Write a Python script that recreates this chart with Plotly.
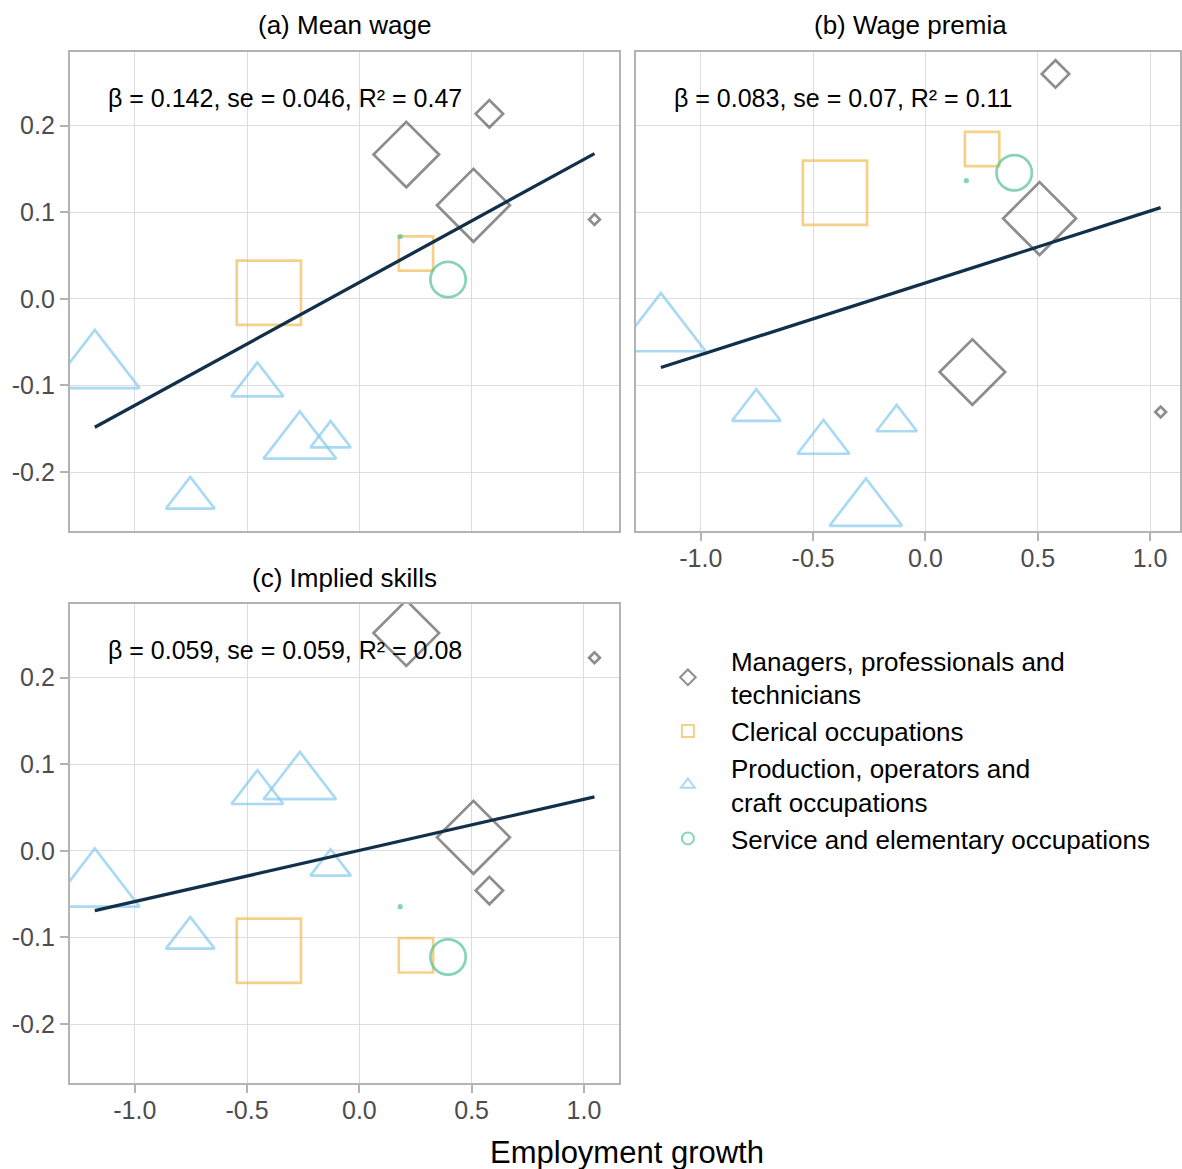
import numpy as np
import plotly.graph_objects as go

# occupation groups (legend order)
groups = [
    "Managers, professionals and<br>technicians",
    "Clerical occupations",
    "Production, operators and<br>craft occupations",
    "Service and elementary occupations",
]

# one entry per occupation
occ_group = [2, 2, 1, 2, 2, 2, 3, 0, 1, 3, 0, 0, 0]
emp_growth = [-1.178, -0.753, -0.403, -0.454, -0.265, -0.128, 0.182, 0.209, 0.252, 0.395, 0.508, 0.579, 1.047]
emp_share = [12.9, 3.8, 24.4, 4.35, 8.5, 2.65, 0.03, 12.6, 6.97, 5.86, 15.6, 2.2, 0.34]

mean_wage = [-0.0807, -0.2299, 0.0070, -0.0995, -0.1663, -0.1614, 0.0719, 0.1666, 0.0523, 0.0223, 0.1080, 0.2136, 0.0916]
wage_premia = [-0.0381, -0.1286, 0.1225, -0.1658, -0.2438, -0.1427, 0.1365, -0.0845, 0.1730, 0.1456, 0.0927, 0.2597, -0.1306]
implied_skills = [-0.0421, -0.1007, -0.1153, 0.0671, 0.0778, -0.0184, -0.0645, 0.2514, -0.1206, -0.1225, 0.0156, -0.0458, 0.2229]

# regression results per panel
panel_titles = ["(a) Mean wage", "(b) Wage premia", "(c) Implied skills"]
slopes = [0.142, 0.083, 0.059]
intercepts = [0.019, 0.0185, 0.0005]
fit_labels = [
    "β = 0.142, se = 0.046, R² = 0.47",
    "β = 0.083, se = 0.07, R² = 0.11",
    "β = 0.059, se = 0.059, R² = 0.08",
]

xtick_vals = [-1.0, -0.5, 0.0, 0.5, 1.0]
xtick_text = ["-1.0", "-0.5", "0.0", "0.5", "1.0"]
ytick_vals = [-0.2, -0.1, 0.0, 0.1, 0.2]
ytick_text = ["-0.2", "-0.1", "0.0", "0.1", "0.2"]

# styling
W, H = 1182, 1169
FONT = "Liberation Sans, Arial, Helvetica, sans-serif"
symbols = ["diamond-open", "square-open", "triangle-up-open", "circle-open"]
colors = ["#5C5C5C", "#F0BE55", "#84C9EE", "#55BF98"]
# marker size per unit of symbol "font size" so shapes resemble ggplot's pch 5/0/2/1
size_factor = [0.71, 0.65, 1.08, 0.73]
line_color = "#13304A"

x = np.array(emp_growth)
share = np.array(emp_share)
grp = np.array(occ_group)
base_size = 20 * np.sqrt(share)

panels = [mean_wage, wage_premia, implied_skills]
axis_ids = ["", "2", "3"]

fig = go.Figure()

for p, yvals in enumerate(panels):
    y = np.array(yvals)
    ax = axis_ids[p]
    for g in range(len(groups)):
        m = grp == g
        fig.add_trace(go.Scatter(
            x=x[m], y=y[m], mode="markers",
            name=groups[g], legendgroup=groups[g], showlegend=(p == 0),
            marker=dict(symbol=symbols[g], color=colors[g],
                        size=base_size[m] * size_factor[g],
                        line=dict(width=2.7, color=colors[g])),
            xaxis="x" + ax, yaxis="y" + ax, hoverinfo="x+y",
        ))
    xl = np.array([x.min(), x.max()])
    fig.add_trace(go.Scatter(
        x=xl, y=intercepts[p] + slopes[p] * xl, mode="lines",
        line=dict(color=line_color, width=3.3), showlegend=False,
        xaxis="x" + ax, yaxis="y" + ax, hoverinfo="skip",
    ))
    fig.add_annotation(x=-1.13, y=0.232, xref="x" + ax, yref="y" + ax,
                       text=fit_labels[p], showarrow=False, xanchor="left",
                       yanchor="middle", font=dict(size=25, color="black"))

frame = dict(showline=True, mirror=True, linecolor="#B3B3B3", linewidth=2,
             showgrid=True, gridcolor="#DDDDDD", gridwidth=1.4, zeroline=False,
             tickfont=dict(size=25, color="#4D4D4D"), ticklen=8,
             tickcolor="#B3B3B3", tickwidth=1.5)

x_full = [-1.289, 1.156]
x_b = [-1.289, -1.289 + (W - 637) / 225]
y_rng = [-0.268, 0.285]

def xdom(a, b):
    return [a / W, b / W]

def ydom(top, bot):
    return [1 - bot / H, 1 - top / H]

fig.update_layout(
    width=W, height=H,
    margin=dict(l=0, r=0, t=0, b=0),
    paper_bgcolor="white", plot_bgcolor="white",
    font=dict(family=FONT, color="black"),
    xaxis=dict(frame, domain=xdom(70, 620), anchor="y", range=x_full,
               tickvals=xtick_vals, ticktext=xtick_text, showticklabels=False, ticks=""),
    yaxis=dict(frame, domain=ydom(52, 531), anchor="x", range=y_rng,
               tickvals=ytick_vals, ticktext=ytick_text, ticks="outside",
               ticklabelstandoff=0),
    xaxis2=dict(frame, domain=[637 / W, 1.0], anchor="y2", range=x_b,
                tickvals=xtick_vals, ticktext=xtick_text, ticks="outside",
                ticklabelstandoff=-4),
    yaxis2=dict(frame, domain=ydom(52, 531), anchor="x2", range=y_rng,
                tickvals=ytick_vals, ticktext=ytick_text, showticklabels=False, ticks=""),
    xaxis3=dict(frame, domain=xdom(70, 620), anchor="y3", range=x_full,
                tickvals=xtick_vals, ticktext=xtick_text, ticks="outside",
                ticklabelstandoff=-4),
    yaxis3=dict(frame, domain=ydom(604, 1083), anchor="x3", range=y_rng,
                tickvals=ytick_vals, ticktext=ytick_text, ticks="outside",
                ticklabelstandoff=0),
    legend=dict(x=646 / W, y=1 - 637 / H, xanchor="left", yanchor="top",
                font=dict(size=26, color="black"), itemwidth=76,
                itemsizing="constant", bgcolor="rgba(0,0,0,0)",
                tracegroupgap=0),
    showlegend=True,
)

title_pos = [(345, 25), (912, 25), (345, 578)]
for t, (tx, ty) in zip(panel_titles, title_pos):
    fig.add_annotation(x=tx / W, y=1 - ty / H, xref="paper", yref="paper",
                       text=t, showarrow=False, xanchor="center", yanchor="middle",
                       font=dict(size=26, color="black"))

fig.add_annotation(x=628 / W, y=1 - 1152 / H, xref="paper", yref="paper",
                   text="Employment growth", showarrow=False,
                   xanchor="center", yanchor="middle",
                   font=dict(size=31, color="black"))

# drop the default page margin so the figure fills the window exactly
fig.write_html("out.html", config={"displayModeBar": False},
               post_script="document.body.style.margin='0px';")
